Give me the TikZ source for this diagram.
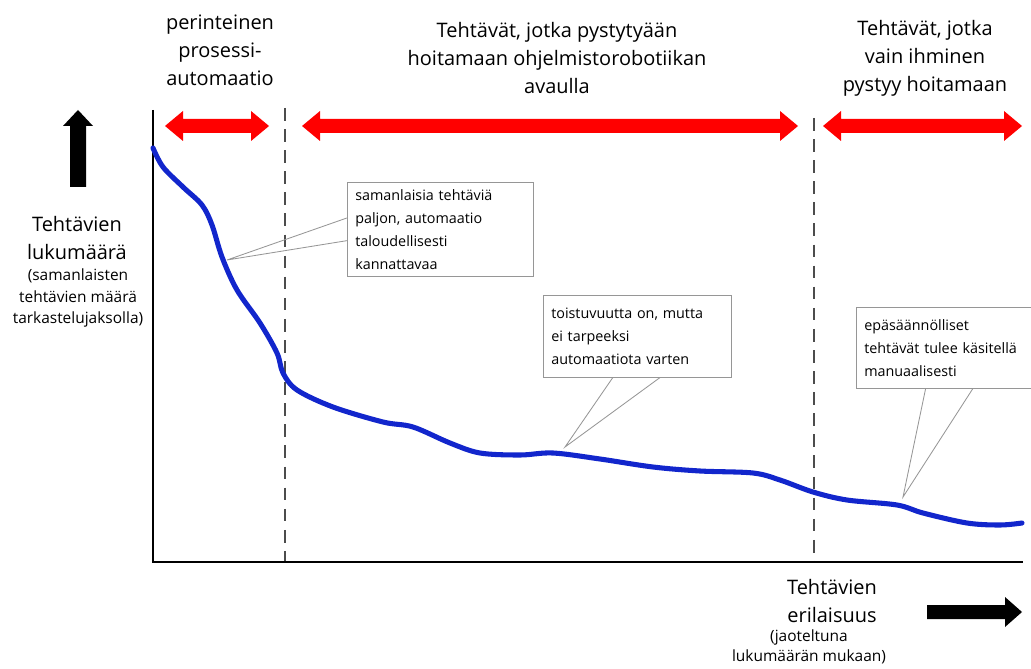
\documentclass[tikz,border=0pt]{standalone}
\usepackage{fontspec}
\setmainfont{Open Sans}
\usetikzlibrary{calc}
\definecolor{curveblue}{RGB}{18,38,204}
\definecolor{calloutgray}{RGB}{150,150,150}
\tikzset{
  bigtext/.style={align=center,font=\fontsize{14.2}{19.8}\selectfont},
  smalltext/.style={align=center,font=\fontsize{11}{15.6}\selectfont},
  callout/.style={draw=calloutgray,fill=white,align=left,inner xsep=0.2cm,
    anchor=north west,font=\fontsize{10.2}{16.3}\selectfont},
  pointer/.style={draw=calloutgray,line width=0.6pt},
  divider/.style={gray!60!black,line width=1.4pt,dash pattern=on 9pt off 6pt},
  axisline/.style={black,line width=2pt},
  trend/.style={curveblue,line width=3.6pt,line cap=round},
}
\begin{document}
\begin{tikzpicture}[x=0.025cm,y=-0.025cm]
  \useasboundingbox (0,0) rectangle (1031,669);
  % jaot
  \draw[divider] (285,108) -- (285,562);
  \draw[divider] (814,118) -- (814,562);
  % akselit
  \draw[axisline] (153,110) -- (153,562) -- (1023,562);
  % kayra
  \draw[trend] plot[smooth,tension=0.55] coordinates {(153,148) (163,167) (183,187)
    (202,205) (212,225) (222,257) (237,290) (260,323) (277,353) (283,373) (297,390)
    (333,407) (383,422) (413,427) (450,443) (480,453) (520,455) (553,453) (600,459)
    (653,467) (700,471) (753,473) (780,480) (813,492) (847,500) (897,505) (923,513)
    (967,523) (1000,525) (1022,523)};
  % puhekuplat
  \coordinate (tip1) at (227,260);
  \coordinate (tip2) at (565,447);
  \coordinate (tip3) at (903,497);
  \node[callout,minimum width=4.65cm,minimum height=2.35cm,text width=4.25cm] (box1) at (347,182)
    {samanlaisia tehtäviä\\paljon, automaatio\\taloudellisesti\\kannattavaa};
  \node[callout,minimum width=4.7cm,minimum height=2.05cm,text width=4.3cm] (box2) at (543,295)
    {toistuvuutta on, mutta\\ei tarpeeksi\\automaatiota varten};
  \node[callout,minimum width=6.2cm,minimum height=2.025cm,text width=5.8cm] (box3) at (856,307)
    {epäsäännölliset\\tehtävät tulee käsitellä\\manuaalisesti};
  \draw[pointer] ($(box1.north west)!0.38!(box1.south west)$) -- (tip1)
    -- ($(box1.north west)!0.62!(box1.south west)$);
  \draw[pointer] ($(box2.south west)!0.37!(box2.south east)$) -- (tip2)
    -- ($(box2.south west)!0.62!(box2.south east)$);
  \draw[pointer] ($(box3.south west)!0.28!(box3.south east)$) -- (tip3)
    -- ($(box3.south west)!0.47!(box3.south east)$);
  % otsikot
  \node[bigtext] (perinteinen) at (220,50) {perinteinen\\prosessi-\\automaatio};
  \node[bigtext] (robotiikka) at (557,58) {Tehtävät, jotka pystytyään\\hoitamaan ohjelmistorobotiikan\\avaulla};
  \node[bigtext] (ihminen) at (925,58) {Tehtävät, jotka\\vain ihminen\\pystyy hoitamaan};
  \node[bigtext] (ylab) at (77,238) {Tehtävien\\lukumäärä};
  \node[smalltext] (ylabsub) at (78,298) {(samanlaisten\\tehtävien määrä\\tarkastelujaksolla)};
  \node[bigtext] (xlab) at (832,601) {Tehtävien\\erilaisuus};
  \node[smalltext,font=\fontsize{11}{14}\selectfont] (xlabsub) at (809,647) {(jaoteltuna\\lukumäärän mukaan)};
  % punaiset nuolet
  \fill[red] (165,126) -- ++(18,-15) -- ++(0,8) -- (251,119) -- ++(0,-8) -- (269,126)
    -- ++(-18,15) -- ++(0,-8) -- (183,133) -- ++(0,8) -- cycle;
  \fill[red] (302,126) -- ++(18,-15) -- ++(0,8) -- (780,119) -- ++(0,-8) -- (798,126)
    -- ++(-18,15) -- ++(0,-8) -- (320,133) -- ++(0,8) -- cycle;
  \fill[red] (823,126) -- ++(18,-15) -- ++(0,8) -- (1004,119) -- ++(0,-8) -- (1022,126)
    -- ++(-18,15) -- ++(0,-8) -- (841,133) -- ++(0,8) -- cycle;
  % mustat nuolet
  \fill (78,110) -- (93,126) -- (86,126) -- (86,187) -- (70,187) -- (70,126) -- (63,126) -- cycle;
  \fill (1022,612) -- (1005,597) -- (1005,605) -- (927,605) -- (927,619) -- (1005,619)
    -- (1005,627) -- cycle;
\end{tikzpicture}
\end{document}
